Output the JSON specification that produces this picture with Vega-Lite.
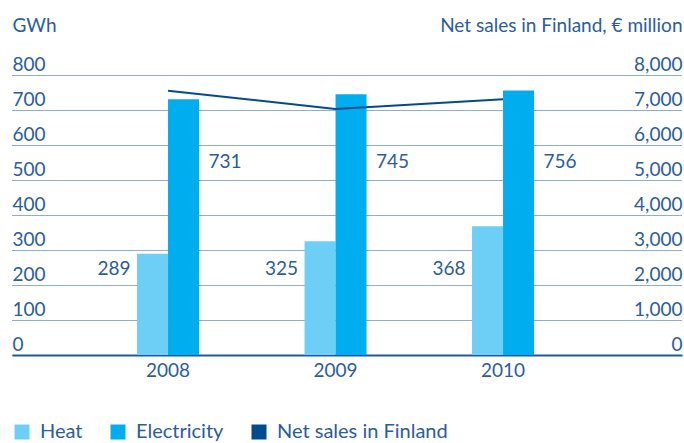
{
  "$schema": "https://vega.github.io/schema/vega-lite/v6.json",
  "autosize": "none",
  "width": 670,
  "height": 280,
  "padding": {"left": 12, "top": 75, "right": 2, "bottom": 88},
  "background": "white",
  "datasets": {
    "energy": [
      {"year": "2008", "type": "Heat", "value": 289},
      {"year": "2008", "type": "Electricity", "value": 731},
      {"year": "2009", "type": "Heat", "value": 325},
      {"year": "2009", "type": "Electricity", "value": 745},
      {"year": "2010", "type": "Heat", "value": 368},
      {"year": "2010", "type": "Electricity", "value": 756}
    ],
    "sales": [
      {"year": "2008", "series": "Net sales in Finland", "sales": 7550},
      {"year": "2009", "series": "Net sales in Finland", "sales": 7030},
      {"year": "2010", "series": "Net sales in Finland", "sales": 7310}
    ]
  },
  "config": {
    "view": {"stroke": null},
    "font": "Lato",
    "axis": {
      "labelFont": "Lato",
      "labelFontSize": 19,
      "labelColor": "#2b5d9b",
      "titleFont": "Lato",
      "titleFontSize": 19,
      "titleFontWeight": "normal",
      "titleColor": "#2b5d9b",
      "ticks": false,
      "tickSize": 0,
      "labelOverlap": false
    },
    "legend": {
      "labelFont": "Lato",
      "labelFontSize": 20,
      "labelColor": "#2b5d9b",
      "labelLimit": 400
    }
  },
  "layer": [
    {
      "data": {"name": "energy"},
      "encoding": {
        "x": {
          "field": "year",
          "type": "nominal",
          "scale": {"paddingInner": 0.63, "paddingOuter": 0.815, "align": 0.458},
          "axis": {
            "title": null,
            "labelAngle": 0,
            "labelPadding": 6,
            "domain": true,
            "domainColor": "#1f5a9e",
            "domainWidth": 2,
            "grid": false
          }
        },
        "xOffset": {"field": "type", "type": "nominal", "sort": ["Heat", "Electricity"]}
      },
      "layer": [
        {
          "mark": {"type": "bar"},
          "encoding": {
            "y": {
              "field": "value",
              "type": "quantitative",
              "scale": {"domain": [0, 800]},
              "axis": {
                "title": "GWh",
                "titleAngle": 0,
                "titleAlign": "left",
                "titleBaseline": "alphabetic",
                "titleX": 0,
                "titleY": -44,
                "values": [0, 100, 200, 300, 400, 500, 600, 700, 800],
                "labelAlign": "left",
                "labelBaseline": "alphabetic",
                "labelPadding": 0,
                "labelOffset": -5,
                "labelOverlap": false,
                "domain": false,
                "grid": true,
                "gridColor": "#1f5a9e",
                "gridDash": [1, 1],
                "gridWidth": 1,
                "gridOpacity": 1
              }
            },
            "color": {
              "field": "type",
              "type": "nominal",
              "scale": {
                "domain": ["Heat", "Electricity", "Net sales in Finland"],
                "range": ["#6dcff6", "#00aeef", "#004b8d"]
              },
              "legend": {
                "title": null,
                "orient": "none",
                "legendX": 0,
                "legendY": 347,
                "direction": "horizontal",
                "symbolType": "square",
                "symbolSize": 225,
                "symbolStrokeWidth": 0,
                "labelOffset": 8,
                "columnPadding": 25
              }
            }
          }
        },
        {
          "transform": [{"filter": "datum.type === 'Heat'"}],
          "mark": {"type": "text", "align": "right", "baseline": "middle", "dx": -22, "fontSize": 19, "font": "Lato", "color": "#2b5d9b"},
          "encoding": {
            "y": {
              "datum": 246,
              "type": "quantitative",
              "axis": {
                "title": "GWh",
                "titleAngle": 0,
                "titleAlign": "left",
                "titleBaseline": "alphabetic",
                "titleX": 0,
                "titleY": -44,
                "values": [0, 100, 200, 300, 400, 500, 600, 700, 800],
                "labelAlign": "left",
                "labelBaseline": "alphabetic",
                "labelPadding": 0,
                "labelOffset": -5,
                "labelOverlap": false,
                "domain": false,
                "grid": true,
                "gridColor": "#1f5a9e",
                "gridDash": [1, 1],
                "gridWidth": 1,
                "gridOpacity": 1
              }
            },
            "text": {"field": "value", "type": "quantitative"}
          }
        },
        {
          "transform": [{"filter": "datum.type === 'Electricity'"}],
          "mark": {"type": "text", "align": "left", "baseline": "middle", "dx": 25, "fontSize": 19, "font": "Lato", "color": "#2b5d9b"},
          "encoding": {
            "y": {
              "datum": 551,
              "type": "quantitative",
              "axis": {
                "title": "GWh",
                "titleAngle": 0,
                "titleAlign": "left",
                "titleBaseline": "alphabetic",
                "titleX": 0,
                "titleY": -44,
                "values": [0, 100, 200, 300, 400, 500, 600, 700, 800],
                "labelAlign": "left",
                "labelBaseline": "alphabetic",
                "labelPadding": 0,
                "labelOffset": -5,
                "labelOverlap": false,
                "domain": false,
                "grid": true,
                "gridColor": "#1f5a9e",
                "gridDash": [1, 1],
                "gridWidth": 1,
                "gridOpacity": 1
              }
            },
            "text": {"field": "value", "type": "quantitative"}
          }
        }
      ]
    },
    {
      "data": {"name": "sales"},
      "mark": {"type": "line", "strokeWidth": 2},
      "encoding": {
        "x": {"field": "year", "type": "nominal"},
        "y": {
          "field": "sales",
          "type": "quantitative",
          "scale": {"domain": [0, 8000]},
          "axis": {
            "orient": "right",
            "title": "Net sales in Finland, € million",
            "titleAngle": 0,
            "titleAlign": "right",
            "titleBaseline": "alphabetic",
            "titleX": 0,
            "titleY": -44,
            "values": [0, 1000, 2000, 3000, 4000, 5000, 6000, 7000, 8000],
            "format": ",d",
            "labelAlign": "right",
            "labelBaseline": "alphabetic",
            "labelPadding": 0,
            "labelOffset": -5,
            "labelOverlap": false,
            "domain": false,
            "grid": false
          }
        },
        "color": {"datum": "Net sales in Finland"}
      }
    }
  ],
  "resolve": {"scale": {"y": "independent"}}
}
